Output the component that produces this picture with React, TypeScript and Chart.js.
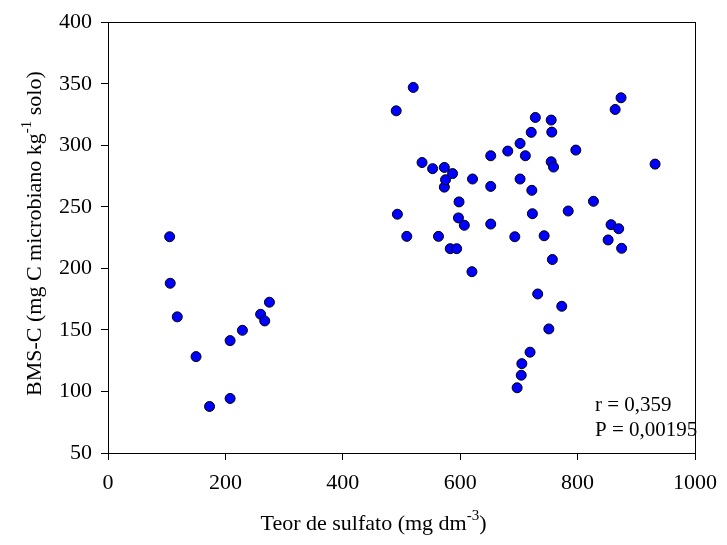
import React, { useEffect, useRef } from "react";
import { Chart, registerables } from "chart.js";

Chart.register(...registerables);

// Teor de sulfato (mg dm-3)
const sulfato = [
  105, 106, 118, 150, 173, 208, 208, 229, 260, 267, 275,
  491, 520, 493, 509, 535, 553, 573, 573, 575, 587, 583, 594, 597, 598, 607, 563, 621, 620,
  874, 864, 728, 755, 721, 756, 702, 681, 652, 711, 797, 755, 759, 702, 652, 722, 827, 723,
  784, 652, 693, 743, 857, 870, 852, 875, 757, 732, 773, 751, 719, 705, 704, 697, 932,
];
// BMS-C (mg C microbiano kg-1 solo)
const bmsC = [
  225.7, 187.9, 160.6, 128.3, 87.8, 94.3, 141.3, 149.7, 162.7, 157.3, 172.5,
  328, 347, 244, 226, 286, 281, 282, 266, 272, 277, 216, 216, 241, 254, 235, 226, 272.6, 197.3,
  338.6, 329.1, 322.6, 320.5, 310.5, 310.7, 301.5, 295.3, 291.5, 291.5, 296.1, 286.6, 282.3, 272.6, 266.6, 263.4, 254.5, 244.4,
  246.6, 236, 225.7, 226.5, 235.5, 232.2, 223.1, 216.3, 207.2, 179.2, 169.2, 150.8, 131.9, 122.6, 113.2, 103, 284.7,
];

const xTicks = [0, 200, 400, 600, 800, 1000];
const yTicks = [50, 100, 150, 200, 250, 300, 350, 400];

const xTitle = [{ t: "Teor de sulfato (mg dm" }, { t: "-3", sup: true }, { t: ")" }];
const yTitle = [{ t: "BMS-C (mg C microbiano kg" }, { t: "-1", sup: true }, { t: " solo)" }];
const statLines = ["r = 0,359", "P = 0,00195"];

const FONT = "'Liberation Serif', 'Times New Roman', serif";

type Part = { t: string; sup?: boolean };

function drawRich(ctx: CanvasRenderingContext2D, parts: Part[], cx: number, cy: number, size: number) {
  const supSize = Math.round(size * 0.68);
  let total = 0;
  const widths = parts.map((p) => {
    ctx.font = `${p.sup ? supSize : size}px ${FONT}`;
    const w = ctx.measureText(p.t).width;
    total += w;
    return w;
  });
  let x = cx - total / 2;
  ctx.textBaseline = "middle";
  ctx.textAlign = "left";
  parts.forEach((p, i) => {
    ctx.font = `${p.sup ? supSize : size}px ${FONT}`;
    ctx.fillText(p.t, x, p.sup ? cy - size * 0.38 : cy);
    x += widths[i];
  });
}

const decor = {
  id: "decor",
  beforeDatasetsDraw(chart: any) {
    const { ctx, chartArea: a } = chart;
    ctx.save();
    ctx.strokeStyle = "#000";
    ctx.lineWidth = 1;
    ctx.strokeRect(Math.round(a.left) + 0.5, Math.round(a.top) + 0.5, Math.round(a.right - a.left), Math.round(a.bottom - a.top));
    ctx.restore();
  },
  afterDraw(chart: any) {
    const { ctx, chartArea: a } = chart;
    ctx.save();
    ctx.fillStyle = "#000";
    drawRich(ctx, xTitle, (a.left + a.right) / 2 - 28, 524, 22);
    ctx.translate(35, (a.top + a.bottom) / 2 - 4);
    ctx.rotate(-Math.PI / 2);
    drawRich(ctx, yTitle, 0, 0, 22);
    ctx.restore();
    ctx.save();
    ctx.fillStyle = "#000";
    ctx.font = `21px ${FONT}`;
    ctx.textAlign = "left";
    ctx.textBaseline = "middle";
    ctx.fillText(statLines[0], 595, 405);
    ctx.fillText(statLines[1], 595, 430);
    ctx.restore();
  },
};

export default function App() {
  const ref = useRef<HTMLCanvasElement>(null);
  useEffect(() => {
    if (!ref.current) return;
    const chart = new Chart(ref.current, {
      type: "scatter",
      data: {
        datasets: [
          {
            data: sulfato.map((x, i) => ({ x, y: bmsC[i] })),
            backgroundColor: "#0000ff",
            borderColor: "#000",
            borderWidth: 1,
            pointRadius: 5,
            pointHoverRadius: 5,
          },
        ],
      },
      options: {
        responsive: false,
        animation: false,
        layout: { padding: { left: 0, top: 22, right: 24, bottom: 0 } },
        plugins: { legend: { display: false }, tooltip: { enabled: false } },
        scales: {
          x: {
            type: "linear",
            min: 0,
            max: 1000,
            afterFit: (s: any) => { s.height = 92; },
            afterBuildTicks: (s: any) => { s.ticks = xTicks.map((v) => ({ value: v })); },
            border: { display: false },
            grid: { drawOnChartArea: false, drawTicks: true, tickLength: 7, color: "#000" },
            ticks: {
              color: "#000",
              padding: 10,
              maxRotation: 0,
              font: { family: FONT, size: 22 },
              callback: (v: any) => String(v),
            },
          },
          y: {
            type: "linear",
            min: 50,
            max: 400,
            afterFit: (s: any) => { s.width = 108; },
            afterBuildTicks: (s: any) => { s.ticks = yTicks.map((v) => ({ value: v })); },
            border: { display: false },
            grid: { drawOnChartArea: false, drawTicks: true, tickLength: 7, color: "#000" },
            ticks: { color: "#000", padding: 9, font: { family: FONT, size: 22 }, callback: (v: any) => String(v) },
          },
        },
      },
      plugins: [decor],
    });
    return () => chart.destroy();
  }, []);
  return (
    <div style={{ position: "absolute", left: 0, top: 0, width: 727, height: 545, background: "#fff" }}>
      <canvas ref={ref} width={727} height={545} />
    </div>
  );
}
